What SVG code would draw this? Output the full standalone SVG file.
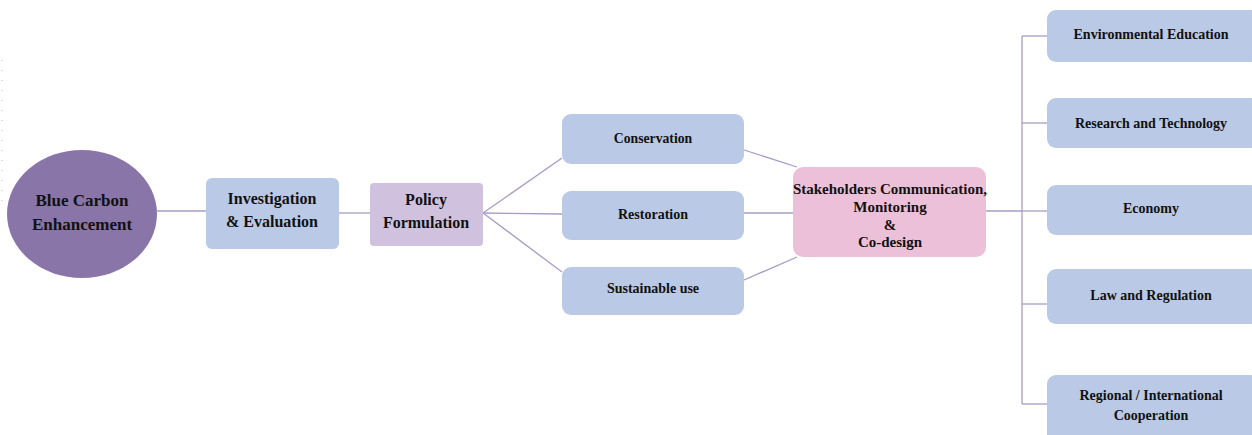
<svg xmlns="http://www.w3.org/2000/svg" width="1252" height="435" viewBox="0 0 1252 435">
<style>
.t{font-family:"Liberation Serif","Times New Roman",serif;font-weight:bold;fill:#111;text-anchor:middle}
.blue{fill:#b9c9e6}
.c{stroke:#a99bc6;stroke-width:1.3;fill:none}
</style>
<rect width="1252" height="435" fill="#fff"/>
<line x1="2" y1="60" x2="2" y2="210" stroke="#bbb" stroke-width="1" stroke-dasharray="1,9"/>
<g id="connectors">
<line class="c" x1="157" y1="211" x2="206" y2="211"/>
<line class="c" x1="339" y1="213" x2="370" y2="213"/>
<line class="c" x1="483" y1="213" x2="562" y2="158"/>
<line class="c" x1="483" y1="213" x2="562" y2="214"/>
<line class="c" x1="483" y1="213" x2="562" y2="272"/>
<line class="c" x1="744" y1="150" x2="797" y2="167"/>
<line class="c" x1="744" y1="213" x2="793" y2="213"/>
<line class="c" x1="744" y1="280" x2="797" y2="257"/>
<line class="c" x1="986" y1="211" x2="1022" y2="211"/>
<line class="c" x1="1022" y1="36" x2="1022" y2="404"/>
<line class="c" x1="1022" y1="36" x2="1047" y2="36"/>
<line class="c" x1="1022" y1="123" x2="1047" y2="123"/>
<line class="c" x1="1022" y1="211" x2="1047" y2="211"/>
<line class="c" x1="1022" y1="304" x2="1047" y2="304"/>
<line class="c" x1="1022" y1="404" x2="1047" y2="404"/>
</g>
<g id="blue-carbon">
<ellipse cx="82" cy="214" rx="75" ry="64" fill="#8a75a8"/>
<text class="t" x="82" y="206" font-size="17">Blue Carbon</text>
<text class="t" x="82" y="230" font-size="17">Enhancement</text>
</g>
<g id="investigation">
<rect class="blue" x="206" y="178" width="133" height="71" rx="6"/>
<text class="t" x="272" y="204" font-size="16">Investigation</text>
<text class="t" x="272" y="227" font-size="16">&amp; Evaluation</text>
</g>
<g id="policy">
<rect x="370" y="183" width="113" height="63" rx="4" fill="#d0c2df"/>
<text class="t" x="426" y="205" font-size="16">Policy</text>
<text class="t" x="426" y="228" font-size="16">Formulation</text>
</g>
<g id="conservation">
<rect class="blue" x="562" y="114" width="182" height="50" rx="9"/>
<text class="t" x="653" y="143" font-size="13.7">Conservation</text>
</g>
<g id="restoration">
<rect class="blue" x="562" y="191" width="182" height="49" rx="9"/>
<text class="t" x="653" y="219" font-size="14">Restoration</text>
</g>
<g id="sustainable">
<rect class="blue" x="562" y="267" width="182" height="48" rx="9"/>
<text class="t" x="653" y="293" font-size="14">Sustainable use</text>
</g>
<g id="stakeholders">
<rect x="793" y="167" width="193" height="90" rx="10" fill="#edc0d9"/>
<text class="t" x="890" y="194" font-size="15">Stakeholders Communication,</text>
<text class="t" x="890" y="212" font-size="15">Monitoring</text>
<text class="t" x="890" y="230" font-size="15">&amp;</text>
<text class="t" x="890" y="247" font-size="15">Co-design</text>
</g>
<g id="env-education">
<rect class="blue" x="1047" y="10" width="212" height="52" rx="9"/>
<text class="t" x="1151" y="39" font-size="14">Environmental Education</text>
</g>
<g id="research">
<rect class="blue" x="1047" y="98" width="212" height="50" rx="9"/>
<text class="t" x="1151" y="128" font-size="14">Research and Technology</text>
</g>
<g id="economy">
<rect class="blue" x="1047" y="185" width="212" height="50" rx="9"/>
<text class="t" x="1151" y="213" font-size="14">Economy</text>
</g>
<g id="law">
<rect class="blue" x="1047" y="269" width="212" height="55" rx="9"/>
<text class="t" x="1151" y="300" font-size="14">Law and Regulation</text>
</g>
<g id="regional">
<rect class="blue" x="1047" y="375" width="212" height="70" rx="9"/>
<text class="t" x="1151" y="400" font-size="14">Regional / International</text>
<text class="t" x="1151" y="420" font-size="14">Cooperation</text>
</g>
</svg>
